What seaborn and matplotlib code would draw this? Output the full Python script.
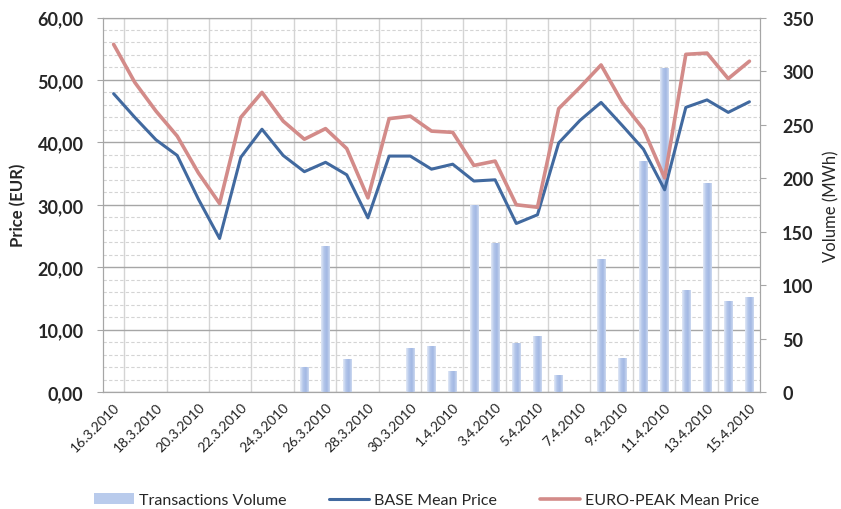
import numpy as np
import pandas as pd
import matplotlib
matplotlib.use("Agg")
import matplotlib.pyplot as plt
import matplotlib.ticker as mticker
from matplotlib.colors import LinearSegmentedColormap
from matplotlib.patches import Patch
from matplotlib.lines import Line2D
import seaborn as sns

# data (one entry per day, 16.3.2010 - 15.4.2010)
dates = ["16.3.2010", "17.3.2010", "18.3.2010", "19.3.2010", "20.3.2010", "21.3.2010",
         "22.3.2010", "23.3.2010", "24.3.2010", "25.3.2010", "26.3.2010", "27.3.2010",
         "28.3.2010", "29.3.2010", "30.3.2010", "31.3.2010", "1.4.2010", "2.4.2010",
         "3.4.2010", "4.4.2010", "5.4.2010", "6.4.2010", "7.4.2010", "8.4.2010",
         "9.4.2010", "10.4.2010", "11.4.2010", "12.4.2010", "13.4.2010", "14.4.2010",
         "15.4.2010"]
base_price = [47.8, 44.0, 40.4, 37.9, 30.9, 24.6, 37.6, 42.1, 37.9, 35.3, 36.8, 34.8,
              27.9, 37.8, 37.8, 35.7, 36.5, 33.8, 34.0, 27.0, 28.4, 39.9, 43.5, 46.4,
              42.7, 38.9, 32.4, 45.6, 46.8, 44.8, 46.5]
peak_price = [55.7, 49.6, 45.0, 41.0, 35.1, 30.2, 44.0, 48.0, 43.4, 40.5, 42.2, 39.0,
              31.1, 43.8, 44.2, 41.8, 41.6, 36.3, 37.0, 30.0, 29.6, 45.4, 48.8, 52.4,
              46.4, 42.1, 34.3, 54.1, 54.3, 50.2, 53.0]
volume = [0, 0, 0, 0, 0, 0, 0, 0, 0, 23.7, 136, 30.5, 0, 0, 41, 42.7, 20, 175, 139,
          46, 52, 16, 0, 124, 32, 216, 303, 95, 195, 85, 89]

price_ticks = [0, 10, 20, 30, 40, 50, 60]
volume_ticks = [0, 50, 100, 150, 200, 250, 300, 350]

df = pd.DataFrame({"date": dates, "base": base_price, "peak": peak_price, "volume": volume})
df["pos"] = np.arange(len(df))

sns.set_style("white")
plt.rcParams["font.family"] = ["Lato", "DejaVu Sans"]

blue = "#41699f"
red = "#d38b89"
grid_major = "#a6a6a6"
grid_minor = "#d4d4d4"

fig = plt.figure(figsize=(8.41, 5.10), dpi=100)
ax = fig.add_axes([0.1225, 0.2294, 0.7812, 0.7343])
ax2 = ax.twinx()
ax3 = ax.twinx()

# price axis with grid (bottom layer)
ax.set_ylim(0, 60)
ax.set_xlim(-0.5, len(df) - 0.5)
ax.set_yticks(price_ticks)
ax.yaxis.set_minor_locator(mticker.MultipleLocator(2))
ax.yaxis.set_major_formatter(mticker.FuncFormatter(lambda v, p: f"{v:.2f}".replace(".", ",")))
ax.grid(which="major", axis="y", color=grid_major, lw=1.0)
ax.grid(which="minor", axis="y", color=grid_minor, lw=0.8, ls=(0, (3, 2)))
ax.set_xticks(df["pos"][::2])
ax.set_xticklabels(df["date"][::2], rotation=45, ha="right", rotation_mode="anchor", fontsize=10)
ax.set_xticks(np.arange(0.5, len(df) - 1, 2), minor=True)
ax.grid(which="minor", axis="x", color=grid_minor, lw=1.0)
ax.tick_params(axis="x", which="both", length=0, pad=6, colors="#222222")
ax.tick_params(axis="y", which="major", length=4, color=grid_major, labelsize=13, pad=10)
ax.tick_params(axis="y", which="minor", length=0)
for lab in ax.get_yticklabels():
    lab.set_fontweight("bold")
ax.set_ylabel("Price (EUR)", fontsize=12, fontweight="bold", labelpad=8)
for s in ax.spines.values():
    s.set_color(grid_major)

# volume bars (middle layer)
sns.barplot(data=df, x="pos", y="volume", ax=ax2, width=0.4, color="#b9cbec",
            native_scale=True, linewidth=0)
ax2.set_ylim(0, 350)
ax2.set_yticks(volume_ticks)
ax2.set_xlim(-0.5, len(df) - 0.5)
ax2.set_xlabel("")
ax2.set_ylabel("Volume (MWh)", fontsize=12, labelpad=7)
ax2.tick_params(axis="y", length=4, color=grid_major, labelsize=13, pad=12)
for lab in ax2.get_yticklabels():
    lab.set_fontweight("bold")
for s in ax2.spines.values():
    s.set_color(grid_major)

cmap = LinearSegmentedColormap.from_list("bar", ["#e2e9f7", "#b3c6ea", "#a2b8e3", "#cddaf1"])
grad = np.linspace(0, 1, 64).reshape(1, -1)
for p in list(ax2.patches):
    h = p.get_height()
    if h <= 0:
        continue
    x0, y0 = p.get_x(), p.get_y()
    im = ax2.imshow(grad, extent=[x0, x0 + p.get_width(), y0, y0 + h], aspect="auto",
                    cmap=cmap, zorder=p.get_zorder(), interpolation="bilinear")
    im.set_clip_path(p)
    p.set_facecolor("none")
ax2.set_xlim(-0.5, len(df) - 0.5)
ax2.set_ylim(0, 350)

# price lines (top layer)
sns.lineplot(data=df, x="pos", y="base", ax=ax3, color=blue, lw=2.2)
sns.lineplot(data=df, x="pos", y="peak", ax=ax3, color=red, lw=2.6)
ax3.set_ylim(0, 60)
ax3.set_xlim(-0.5, len(df) - 0.5)
ax3.set_yticks([])
ax3.set_ylabel("")
ax3.set_xlabel("")
for s in ax3.spines.values():
    s.set_visible(False)
ax.set_xlabel("")

handles = [Patch(facecolor="#b9cbec", edgecolor="none"),
           Line2D([], [], color=blue, lw=2.2),
           Line2D([], [], color=red, lw=2.6)]
fig.legend(handles, ["Transactions Volume", "BASE Mean Price", "EURO-PEAK Mean Price"],
           loc="lower center", bbox_to_anchor=(0.507, -0.025), ncol=3, frameon=False,
           fontsize=11.5, handlelength=2.5, handletextpad=0.3, columnspacing=2.7)

fig.savefig("out.png", dpi=100)
